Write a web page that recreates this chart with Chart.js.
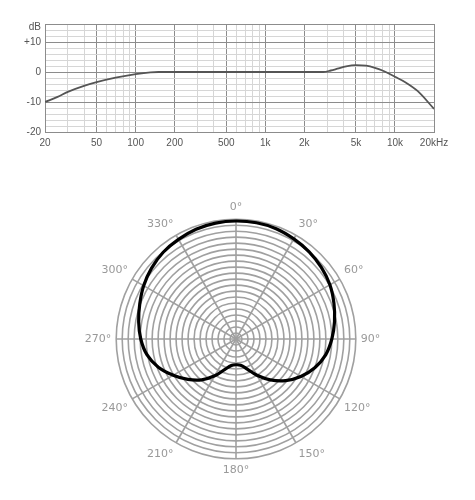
<!DOCTYPE html>
<html><head><meta charset="utf-8">
<script src="https://cdn.jsdelivr.net/npm/chart.js@4"></script>
<style>
html,body{margin:0;padding:0;background:#fff;width:475px;height:500px;overflow:hidden}
#freq{position:absolute;left:0;top:0}
#polar{position:absolute;left:0;top:201px}
</style></head><body>
<canvas id="freq" width="475" height="160"></canvas>
<canvas id="polar" width="475" height="276"></canvas>
<script>
// ---- Frequency response data ----
const freqs       = [20, 25, 30, 40, 50, 70, 100, 130, 150, 200, 500, 1000, 2000, 2800, 3200, 3600, 4200, 5000, 6000, 7000, 8000, 10000, 12000, 15000, 20000];
const responseDb  = [-10, -8.3, -6.6, -4.6, -3.4, -1.9, -0.7, -0.1, 0, 0, 0, 0, 0, 0, 0.5, 1.1, 1.9, 2.3, 2.1, 1.4, 0.5, -1.6, -3.4, -6.4, -12.3];
const freqTickValues = [20, 50, 100, 200, 500, 1000, 2000, 5000, 10000, 20000];
const freqTickText   = ['20', '50', '100', '200', '500', '1k', '2k', '5k', '10k', '20kHz'];
const dbTickValues   = [-20, -10, 0, 10, 15];
const dbTickText     = ['-20', '-10', '0', '+10', 'dB'];

// ---- Polar pattern data ----
const angles    = [0,10,20,30,40,50,60,70,80,90,100,110,120,130,140,150,160,170,180,190,200,210,220,230,240,250,260,270,280,290,300,310,320,330,340,350];
const polarGain = [19.7,19.7,19.6,19.3,19.0,18.6,18.1,17.4,16.7,16.0,15.2,14.0,12.5,10.8,8.9,7.0,5.3,4.45,4.3,4.5,5.4,7.1,8.9,10.5,12.1,13.8,15.1,15.9,16.5,17.1,17.8,18.4,18.9,19.2,19.5,19.65];

const MAJOR = '#8c8c8c', MINOR = '#d6d6d6';

new Chart(document.getElementById('freq'), {
  type: 'line',
  data: { datasets: [{
    data: freqs.map((f, i) => ({ x: f, y: responseDb[i] })),
    borderColor: '#555', borderWidth: 1.8, pointRadius: 0,
    cubicInterpolationMode: 'monotone', fill: false
  }]},
  options: {
    responsive: false, animation: false, devicePixelRatio: 1,
    layout: { padding: { left: 0, right: 41, top: 24, bottom: 0 } },
    plugins: { legend: { display: false }, tooltip: { enabled: false } },
    scales: {
      x: {
        type: 'logarithmic', min: 20, max: 20000,
        afterBuildTicks: s => {
          const t = [];
          for (let d = 10; d <= 10000; d *= 10)
            for (let m = 1; m < 10; m++) { const v = m * d; if (v >= 20 && v <= 20000) t.push({ value: v }); }
          s.ticks = t;
        },
        afterFit: s => { s.height = 28; },
        grid: { drawTicks: false, lineWidth: 1, color: c => freqTickValues.includes(c.tick && c.tick.value) ? MAJOR : MINOR },
        border: { color: MAJOR },
        ticks: {
          autoSkip: false, maxRotation: 0, padding: 5, color: '#555',
          font: { family: "'Liberation Sans', Arial, sans-serif", size: 10 },
          callback: v => { const i = freqTickValues.indexOf(v); return i >= 0 ? freqTickText[i] : ''; }
        }
      },
      y: {
        type: 'linear', min: -20, max: 16,
        afterBuildTicks: s => {
          const t = [];
          for (let v = -20; v <= 16; v += 2) t.push({ value: v });
          t.push({ value: 15 });
          t.sort((a, b) => a.value - b.value);
          s.ticks = t;
        },
        afterFit: s => { s.width = 45; },
        grid: { drawTicks: false, lineWidth: 1, color: c => {
          const v = c.tick && c.tick.value;
          if (v === 15) return 'rgba(0,0,0,0)';
          return (v % 10 === 0 || v === 16) ? MAJOR : MINOR;
        } },
        border: { color: MAJOR },
        ticks: {
          autoSkip: false, padding: 4, color: '#555',
          font: { family: "'Liberation Sans', Arial, sans-serif", size: 10 },
          callback: v => { const i = dbTickValues.indexOf(v); return i >= 0 ? dbTickText[i] : ''; }
        }
      }
    }
  }
});

const RING = '#a0a0a0';
new Chart(document.getElementById('polar'), {
  type: 'radar',
  data: { labels: angles, datasets: [{
    data: polarGain, borderColor: '#000', borderWidth: 3.2,
    pointRadius: 0, fill: false, tension: 0.4
  }]},
  options: {
    responsive: false, animation: false, devicePixelRatio: 1,
    layout: { padding: { right: 2 } },
    plugins: { legend: { display: false }, tooltip: { enabled: false } },
    scales: {
      r: {
        min: 0, max: 20,
        ticks: { display: false, stepSize: 1 },
        grid: { circular: true, color: RING, lineWidth: 1.6 },
        angleLines: {
          color: c => (angles[c.index] % 30 === 0 ? RING : 'rgba(0,0,0,0)'),
          lineWidth: c => (angles[c.index] % 30 === 0 ? 1.6 : 0)
        },
        pointLabels: {
          padding: 5, color: '#999',
          font: { family: "'DejaVu Sans', sans-serif", size: 11 },
          callback: l => (l % 30 === 0 ? l + '°' : '')
        }
      }
    }
  }
});
</script>
</body></html>
